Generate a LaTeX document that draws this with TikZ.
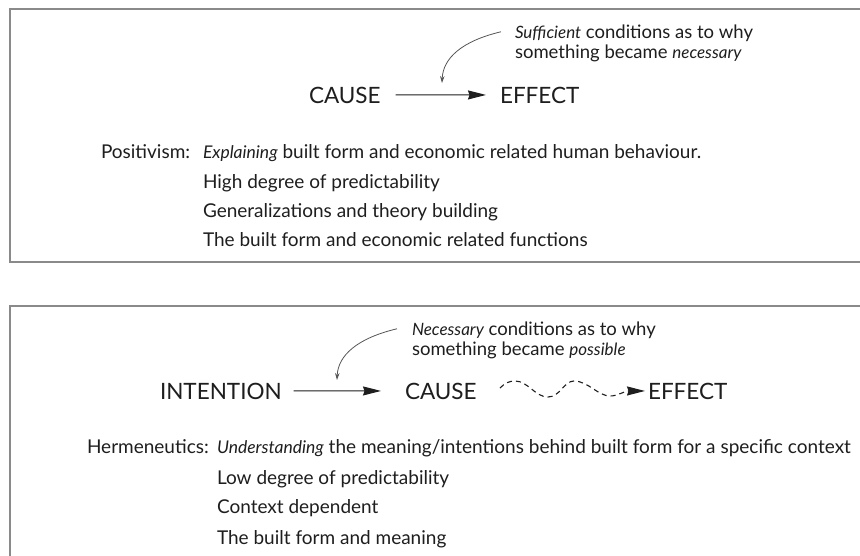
\documentclass[tikz,border=0pt]{standalone}
\usepackage{fontspec}
\setmainfont{Lato}
\usetikzlibrary{arrows.meta,calc}
\definecolor{ink}{HTML}{1E1E1E}
\definecolor{frame}{HTML}{8A8A8A}
\newcommand{\emtxt}[1]{{\fontsize{17}{20}\selectfont\itshape #1}}
\newcommand{\embody}[1]{{\fontsize{17.5}{20}\selectfont\itshape #1}}
\begin{document}
\begin{tikzpicture}[x=1pt,y=-1pt,
  every node/.style={inner sep=0pt,outer sep=0pt,text=ink},
  title/.style={font=\fontsize{22.5}{27}\selectfont,anchor=base west},
  body/.style={font=\fontsize{19}{22}\selectfont,anchor=base west},
  note/.style={font=\fontsize{18.5}{22}\selectfont,anchor=base west},
  boxline/.style={draw=frame,line width=1.6pt},
  mainarrow/.style={draw=ink,line width=1.1pt,-{Stealth[length=18pt,width=9pt,inset=1.5pt]}},
  notearrow/.style={draw=ink!75,line width=0.8pt,-{Stealth[length=7pt,width=4.5pt]}},
  wavearrow/.style={draw=ink,line width=1.1pt,dash pattern=on 5pt off 4pt,-{Stealth[length=18pt,width=9pt,inset=1.5pt]}}
]
\useasboundingbox (0,0) rectangle (860,555);
\fill[white] (0,0) rectangle (860,555);
% frames
\draw[boxline] (862,9) -- (10,9) -- (10,262) -- (862,262);
\draw[boxline] (862,306) -- (10,306) -- (10,557);

% ---------- top panel
\node[title] (cause1) at (309,103) {CAUSE};
\node[title] (effect1) at (500,103) {EFFECT};
\draw[mainarrow] ([xshift=15pt]cause1.east) -- ([xshift=-14pt]effect1.west);
\node[note] (suff1) at (515,38) {\emtxt{Sufficient} conditions as to why};
\node[note] (suff2) at (515,58) {something became \emtxt{necessary}};
\coordinate (tip1) at (442,83);
\draw[notearrow] ([xshift=-14pt,yshift=1pt]suff1.west) .. controls (462,41) and (443,58) .. (tip1);

\node[body] (pos) at (101,158) {Positivism:};
\node[body] (p1) at (203,158) {\embody{Explaining} built form and economic related human behaviour.};
\node[body] (p2) at (203,188) {High degree of predictability};
\node[body] (p3) at (203,217) {Generalizations and theory building};
\node[body] (p4) at (203,246) {The built form and economic related functions};

% ---------- bottom panel
\node[title] (intention) at (160,399) {INTENTION};
\node[title] (cause2) at (405,399) {CAUSE};
\node[title] (effect2) at (648,399) {EFFECT};
\draw[mainarrow] ([xshift=12pt]intention.east) -- ([xshift=-24pt]cause2.west);
\coordinate (ws) at (500,388);
\draw[wavearrow] (ws) .. controls (505,383) and (509,381) .. (515,381)
   .. controls (528,381) and (535,397) .. (548,397)
   .. controls (560,397) and (564,381) .. (574,381)
   .. controls (588,381) and (598,396) .. (610,396)
   .. controls (618,396) and (624,391) .. ([xshift=-3pt]effect2.west);
\node[note] (nec1) at (412,335) {\emtxt{Necessary} conditions as to why};
\node[note] (nec2) at (412,355) {something became \emtxt{possible}};
\coordinate (tip2) at (337,380);
\draw[notearrow] ([xshift=-15pt,yshift=1pt]nec1.west) .. controls (358,338) and (338,355) .. (tip2);

\node[body] (her) at (87,453) {Hermeneutics:};
\node[body] (h1) at (217,453) {\embody{Understanding} the meaning/intentions behind built form for a specific context};
\node[body] (h2) at (217,484) {Low degree of predictability};
\node[body] (h3) at (217,513) {Context dependent};
\node[body] (h4) at (217,544) {The built form and meaning};
\end{tikzpicture}
\end{document}
